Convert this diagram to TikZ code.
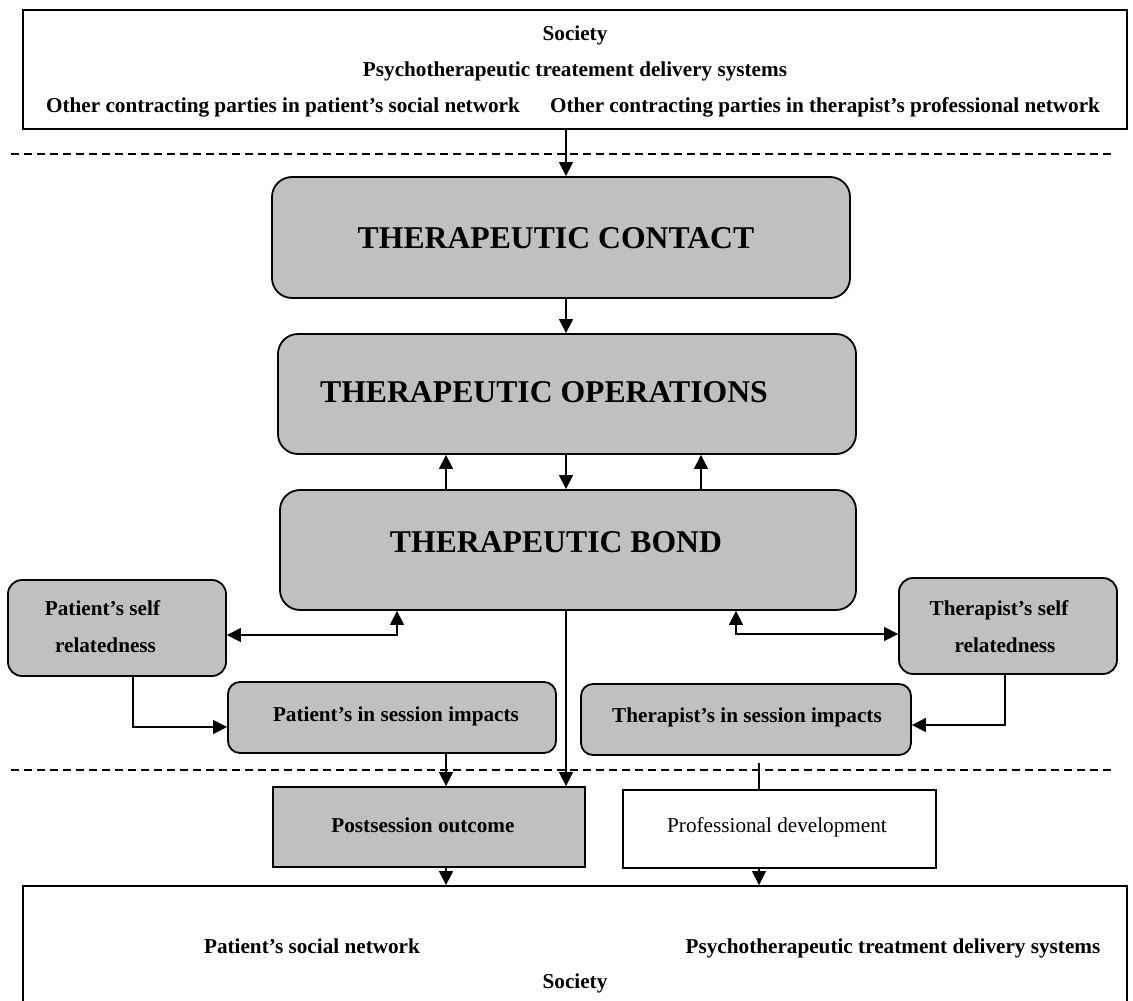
\documentclass[tikz,border=0pt]{standalone}
\usepackage{fontspec}
\setmainfont{Liberation Serif}
\usetikzlibrary{arrows.meta,calc}
\definecolor{boxgray}{RGB}{192,192,192}
\begin{document}
\begin{tikzpicture}[x=1pt,y=-1pt,
  frame/.style={draw,line width=1.8pt,inner sep=0pt},
  gbox/.style={frame,fill=boxgray,rounded corners=20pt},
  sgbox/.style={frame,fill=boxgray,rounded corners=14pt},
  lbl/.style={font=\fontsize{21.2}{25}\selectfont\bfseries,inner sep=0pt,anchor=base},
  plain/.style={font=\fontsize{21.2}{25}\selectfont,inner sep=0pt,anchor=base},
  big/.style={font=\fontsize{31.7}{38}\selectfont\bfseries,inner sep=0pt},
  tip/.tip={Triangle[length=14pt,width=14pt]},
  conn/.style={line width=1.3pt,-tip},
  both/.style={line width=1.3pt,tip-tip},
  link/.style={line width=1.3pt},
  sep/.style={line width=1.3pt,dash pattern=on 8pt off 5pt}]
\useasboundingbox (0,0) rectangle (1133,1001);

% outer context boxes
\node[frame,minimum width=1104pt,minimum height=119pt] (top) at (575,69.5) {};
\node[frame,minimum width=1104pt,minimum height=124pt] (bot) at (575,948) {};

% session boxes
\node[gbox,minimum width=578pt,minimum height=121pt] (tc) at (561,237.5) {};
\node[gbox,minimum width=578pt,minimum height=120pt] (to) at (567,394) {};
\node[gbox,minimum width=576pt,minimum height=120pt] (bond) at (568,550) {};
\node[sgbox,minimum width=218pt,minimum height=96pt] (pself) at (117,628) {};
\node[sgbox,minimum width=218pt,minimum height=96pt] (tself) at (1008,626) {};
\node[sgbox,rounded corners=12pt,minimum width=328pt,minimum height=71pt] (pimp) at (392,717.5) {};
\node[sgbox,rounded corners=12pt,minimum width=330pt,minimum height=71pt] (timp) at (746,719.5) {};
\node[frame,fill=boxgray,minimum width=312pt,minimum height=80pt] (post) at (429,827) {};
\node[frame,fill=white,minimum width=313pt,minimum height=78pt] (prof) at (779.5,829) {};

% texts
\node[lbl] (t1) at (575,40) {Society};
\node[lbl] (t2) at (575,76) {Psychotherapeutic treatement delivery systems};
\node[lbl] (t3) at (283,112) {Other contracting parties in patient’s social network};
\node[lbl] (t4) at (825,112) {Other contracting parties in therapist’s professional network};
\node[big] (tct) at (556,238) {THERAPEUTIC CONTACT};
\node[big] (tot) at (544,392) {THERAPEUTIC OPERATIONS};
\node[big] (tbt) at (556,542) {THERAPEUTIC BOND};
\node[lbl] (ps1) at (102.5,615) {Patient’s self};
\node[lbl] (ps2) at (105.5,652) {relatedness};
\node[lbl] (ts1) at (999,615) {Therapist’s self};
\node[lbl] (ts2) at (1005,652) {relatedness};
\node[lbl] (pit) at (396,721) {Patient’s in session impacts};
\node[lbl] (tit) at (747,722) {Therapist’s in session impacts};
\node[lbl] (pot) at (423,832) {Postsession outcome};
\node[plain] (prt) at (777,832) {Professional development};
\node[lbl] (b1) at (312,953) {Patient’s social network};
\node[lbl] (b2) at (893,953) {Psychotherapeutic treatment delivery systems};
\node[lbl] (b3) at (575,988) {Society};

% boundaries of the session
\draw[sep] (11,154) -- (1113,154);
\draw[sep] (11,770) -- (1113,770);

% junction points of the connectors
\coordinate (xa) at (566,0);
\coordinate (xb) at (446,0);
\coordinate (xc) at (701,0);
\coordinate (jl) at (397,635);
\coordinate (jr) at (736,634);
\coordinate (kl) at (133,727);
\coordinate (kr) at (1005,725);
\coordinate (xd) at (759,0);

% connectors
\draw[conn] (top.south -| xa) -- (tc.north -| xa);
\draw[conn] (tc.south -| xa) -- (to.north -| xa);
\draw[conn] (to.south -| xa) -- (bond.north -| xa);
\draw[conn] (bond.north -| xb) -- (to.south -| xb);
\draw[conn] (bond.north -| xc) -- (to.south -| xc);
\draw[both] (bond.south -| jl) -- (jl) -- (pself.east |- jl);
\draw[both] (bond.south -| jr) -- (jr) -- (tself.west |- jr);
\draw[conn] (pself.south -| kl) -- (kl) -- (pimp.west |- kl);
\draw[conn] (tself.south -| kr) -- (kr) -- (timp.east |- kr);
\draw[conn] (pimp.south -| xb) -- (post.north -| xb);
\draw[conn] (bond.south -| xa) -- (post.north -| xa);
\draw[link,shorten <=7pt] (timp.south -| xd) -- (prof.north -| xd);
\draw[conn] (post.south -| xb) -- (bot.north -| xb);
\draw[conn] (prof.south -| xd) -- (bot.north -| xd);
\end{tikzpicture}
\end{document}
